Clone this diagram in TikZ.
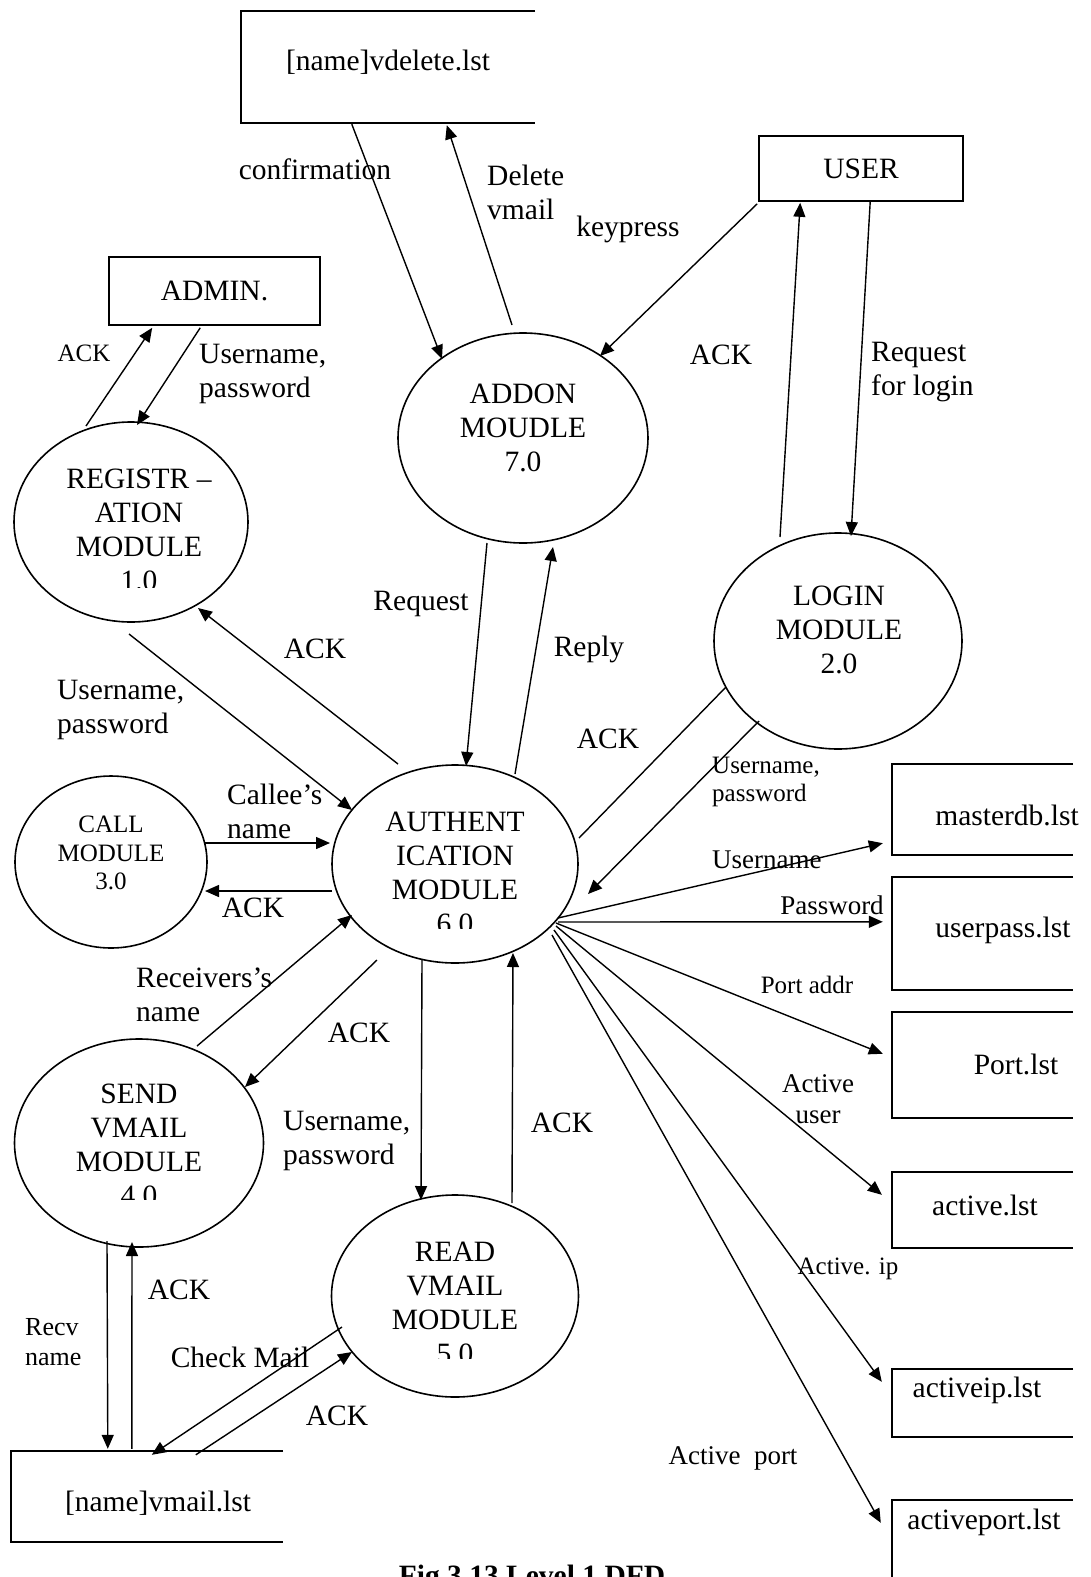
\documentclass[tikz,border=0pt]{standalone}
\usepackage{fontspec}
\setmainfont{Liberation Serif}
\usetikzlibrary{shapes.geometric,arrows.meta,calc}

\tikzset{
  proc/.style={ellipse, draw, line width=1.6pt, inner sep=0pt},
  ent/.style={rectangle, draw, line width=1.6pt, inner sep=0pt},
  store/.style={rectangle, inner sep=0pt},
  storeline/.style={line width=1.6pt},
  flow/.style={line width=1.4pt, -{Triangle[length=14pt,width=12pt]}},
  plain/.style={line width=1.4pt},
  bigf/.style={font=\fontsize{29.5}{34}\selectfont, inner sep=0pt},
  midf/.style={font=\fontsize{27}{31}\selectfont, inner sep=0pt},
  smallf/.style={font=\fontsize{25}{28.75}\selectfont, inner sep=0pt},
}

\begin{document}
\begin{tikzpicture}[x=1pt, y=-1pt]
\useasboundingbox (0,0) rectangle (1090,1577);
\clip (0,0) rectangle (1090,1577);

% ---- processes ----
\node[proc, minimum width=250pt, minimum height=210pt] (addon) at (523,438) {};
\node[proc, minimum width=234pt, minimum height=200pt] (reg)   at (131,522) {};
\node[proc, minimum width=248pt, minimum height=216pt] (login) at (838,641) {};
\node[proc, minimum width=192pt, minimum height=172pt] (call)  at (111,862) {};
\node[proc, minimum width=246pt, minimum height=198pt] (auth)  at (455,864) {};
\node[proc, minimum width=249pt, minimum height=208pt] (send)  at (139,1143) {};
\node[proc, minimum width=247pt, minimum height=202pt] (read)  at (455,1296) {};

\node[bigf, align=center] (addon-t) at (523,428) {ADDON\\MOUDLE\\7.0};
\node[bigf, align=center] (login-t) at (839,630) {LOGIN\\MODULE\\2.0};
\node[smallf, align=center] (call-t) at (111,853) {CALL\\MODULE\\3.0};
% the last line of these labels is cut by the text frame
\begin{scope}
  \clip (0,0) rectangle (1090,587);
  \node[bigf, align=center] (reg-t) at (139,530) {REGISTR –\\ATION\\MODULE\\1.0};
\end{scope}
\begin{scope}
  \clip (0,0) rectangle (1090,928);
  \node[bigf, align=center] (auth-t) at (455,873) {AUTHENT\\ICATION\\MODULE\\6.0};
\end{scope}
\begin{scope}
  \clip (0,0) rectangle (1090,1199);
  \node[bigf, align=center] (send-t) at (139,1145) {SEND\\VMAIL\\MODULE\\4.0};
\end{scope}
\begin{scope}
  \clip (0,0) rectangle (1090,1358);
  \node[bigf, align=center] (read-t) at (455,1303) {READ\\VMAIL\\MODULE\\5.0};
\end{scope}

% ---- external entities ----
\node[ent, bigf, minimum width=204pt, minimum height=65pt] (user)  at (861,168.5) {USER};
\node[ent, bigf, minimum width=211pt, minimum height=68pt] (admin) at (214.5,291) {ADMIN.};

% ---- data stores (open on the right) ----
\node[store, minimum width=294pt, minimum height=112pt] (vdel)       at (388,67) {};
\node[store, minimum width=181pt, minimum height=91pt]  (masterdb)   at (982.5,809.5) {};
\node[store, minimum width=181pt, minimum height=113pt] (userpass)   at (982.5,933.5) {};
\node[store, minimum width=181pt, minimum height=106pt] (port)       at (982.5,1065) {};
\node[store, minimum width=181pt, minimum height=76pt]  (active)     at (982.5,1210) {};
\node[store, minimum width=181pt, minimum height=68pt]  (activeip)   at (982.5,1403) {};
\node[store, minimum width=181pt, minimum height=100pt] (activeport) at (982.5,1550) {};
\node[store, minimum width=272pt, minimum height=91pt]  (vmail)      at (147,1496.5) {};
\foreach \s in {vdel,masterdb,userpass,port,active,activeip,activeport,vmail}
  \draw[storeline] (\s.north east) -- (\s.north west) -- (\s.south west) -- (\s.south east);

\node[bigf] (vdel-t)       at (388,62)   {[name]vdelete.lst};
\node[bigf] (masterdb-t)   at (1007,815) {masterdb.lst};
\node[bigf] (userpass-t)   at (1003,930) {userpass.lst};
\node[bigf] (port-t)       at (1016,1064) {Port.lst};
\node[bigf] (active-t)     at (985,1205) {active.lst};
\node[bigf] (activeip-t)   at (977,1390) {activeip.lst};
\node[bigf] (activeport-t) at (984,1522) {activeport.lst};
\node[bigf] (vmail-t)      at (158,1503) {[name]vmail.lst};

% ---- flows ----
\draw[flow] ($(vdel.south west)+(111,1)$) -- ($(addon)+(-81,-79)$);
\draw[flow] ($(addon)+(-11,-113)$) -- ($(vdel.south west)+(206,2)$);
\draw[flow] ($(user.south west)+(-1,2)$) -- ($(addon)+(77,-82)$);
\draw[flow] ($(login)+(-58,-104)$) -- ($(user.south west)+(42,1)$);
\draw[flow] ($(user.south west)+(112,0)$) -- ($(login)+(13,-105)$);
\draw[flow] ($(reg)+(-45,-96)$) -- ($(admin.south west)+(44,2)$);
\draw[flow] ($(admin.south west)+(92,2)$) -- ($(reg)+(6,-97)$);
\draw[flow] ($(addon)+(-36,105)$) -- ($(auth)+(11,-98)$);
\draw[flow] ($(auth)+(60,-90)$) -- ($(addon)+(30,109)$);
\draw[flow] ($(auth)+(-57,-100)$) -- ($(reg)+(67,86)$);
\draw[flow] ($(reg)+(-2,112)$) -- ($(auth)+(-103,-54)$);
\draw[flow] ($(login)+(-79,80)$) -- ($(auth)+(133,30)$);
\draw[plain] ($(auth)+(124,-26)$) -- ($(login)+(-112,46)$);
\draw[flow] ($(call)+(94,-19)$) -- ($(auth)+(-125,-21)$);
\draw[flow] ($(auth)+(-123,27)$) -- ($(call)+(94,29)$);
\draw[flow] ($(send)+(58,-97)$) -- ($(auth)+(-103,51)$);
\draw[flow] ($(auth)+(-78,96)$) -- ($(send)+(106,-56)$);
\draw[flow] ($(auth)+(-33,96)$) -- ($(read)+(-34,-96)$);
\draw[flow] ($(read)+(57,-93)$) -- ($(auth)+(58,89)$);
\draw[flow] ($(send)+(-32,98)$) -- ($(vmail.north west)+(97,-2)$);
\draw[flow] ($(vmail.north west)+(121,-2)$) -- ($(send)+(-7,99)$);
\draw[flow] ($(read)+(-113,31)$) -- ($(vmail.north west)+(141,4)$);
\draw[flow] ($(vmail.north west)+(185,4)$) -- ($(read)+(-103,56)$);
\draw[flow] ($(auth)+(103,54)$) -- ($(masterdb.south west)+(-9,-12)$);
\draw[flow] ($(auth)+(103,58)$) -- ($(userpass.north west)+(-9,45)$);
\draw[flow] ($(auth)+(101,59)$) -- ($(port.north west)+(-9,42)$);
\draw[flow] ($(auth)+(101,62)$) -- ($(active.north west)+(-10,23)$);
\draw[flow] ($(auth)+(99,66)$) -- ($(activeip.north west)+(-10,13)$);
\draw[flow] ($(auth)+(97,71)$) -- ($(activeport.north west)+(-11,23)$);

% ---- flow labels ----
\node[bigf] (l-conf) at (315,169) {confirmation};
\node[bigf, align=left, anchor=west] (l-del) at (487,192.5) {Delete\\vmail};
\node[bigf] (l-key) at (628,229) {keypress};
\node[bigf] (l-ack1) at (721,355) {ACK};
\node[bigf, align=left, anchor=west] (l-reqlog) at (871,372) {Request\\for login};
\node[smallf] (l-ack2) at (84,353) {ACK};
\node[bigf, align=left, anchor=west] (l-admup) at (199,374) {Username,\\password};
\node[bigf] (l-req) at (421,604) {Request};
\node[bigf] (l-reply) at (589,649) {Reply};
\node[bigf] (l-ack3) at (315,649) {ACK};
\node[bigf, align=left, anchor=west] (l-regup) at (57,710) {Username,\\password};
\node[bigf] (l-ack4) at (608,739) {ACK};
\node[smallf, align=left, anchor=west] (l-logup) at (712,782) {Username,\\password};
\node[bigf, align=left, anchor=west] (l-callee) at (227,811) {Callee’s\\name};
\node[bigf] (l-ack5) at (253,908) {ACK};
\node[midf, anchor=west] (l-user) at (712,860) {Username};
\node[midf] (l-pass) at (832,905) {Password};
\node[smallf] (l-port) at (807,985) {Port addr};
\node[bigf, align=left, anchor=west] (l-recv) at (136,995) {Receivers’s\\name};
\node[bigf] (l-ack6) at (359,1033) {ACK};
\node[midf, align=center] (l-actu) at (818,1099) {Active\\user};
\node[bigf, align=left, anchor=west] (l-readup) at (283,1141) {Username,\\password};
\node[bigf] (l-ack7) at (562,1123) {ACK};
\node[bigf] (l-ack8) at (179,1290) {ACK};
\node[smallf] (l-aip) at (848,1269) {Active. ip};
\node[font=\fontsize{26}{30}\selectfont, inner sep=0pt, align=left, anchor=west] (l-rname) at (25,1342) {Recv\\name};
\node[bigf] (l-check) at (240,1357) {Check Mail};
\node[bigf] (l-ack9) at (337,1416) {ACK};
\node[midf] (l-aport) at (733,1458) {Active\ \ port};

% ---- caption, running past the lower edge of the page ----
\node[bigf, font=\fontsize{29.5}{34}\selectfont\bfseries, anchor=base] (caption) at (532,1585) {Fig 3.13 Level 1 DFD};
\end{tikzpicture}
\end{document}
